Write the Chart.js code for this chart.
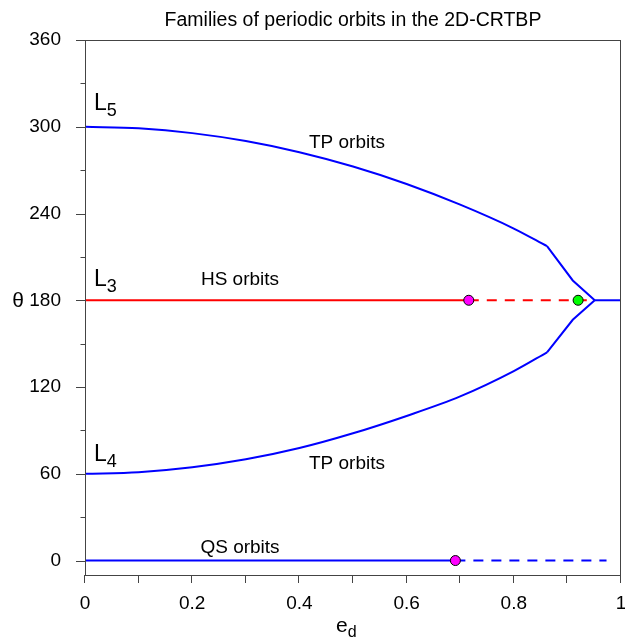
<!DOCTYPE html>
<html>
<head>
<meta charset="utf-8">
<script src="https://cdn.jsdelivr.net/npm/chart.js@4"></script>
<style>
  html, body { margin: 0; padding: 0; background: #fff; }
  #wrap { width: 625px; height: 637px; }
</style>
</head>
<body>
<div id="wrap"><canvas id="c" width="625" height="637"></canvas></div>
<script>
// tadpole (TP) branches: smooth part up to the corner at e ~ 0.862
const tpEcc = [0, 0.1, 0.2, 0.3, 0.4, 0.5, 0.6, 0.7, 0.8, 0.862];
const tpUpper = [300, 298.9, 295.6, 290.1, 282.4, 272.5, 260.4, 246.1, 229.6, 217.4];
const tpLower = [60, 61.1, 64.5, 70, 77.8, 88, 100, 113.5, 131, 144];
// TP tails running into the HS branch point, then the joined branch
const tailEcc = [0.862, 0.91, 0.951];
const tailUpper = [217.4, 193.7, 180];
const tailLower = [144, 166.5, 180];
const joinedEcc = [0.951, 1];
// horseshoe (HS) family at 180 deg, stable up to the first marker
const hsStable = [0, 0.716];
const hsUnstable = [0.716, 0.951];
// quasi-satellite (QS) family at 0 deg
const qsStable = [0, 0.691];
const qsUnstable = [0.691, 0.973];
// bifurcation points
const magentaPts = [[0.716, 180], [0.691, 0]];
const greenPts = [[0.92, 180]];

const xTicks = [0, 0.1, 0.2, 0.3, 0.4, 0.5, 0.6, 0.7, 0.8, 0.9, 1];
const xLabels = ['0', '', '0.2', '', '0.4', '', '0.6', '', '0.8', '', '1'];
const yTicks = [0, 30, 60, 90, 120, 150, 180, 210, 240, 270, 300, 330, 360];

const BLUE = '#0000ff', RED = '#ff0000', AXIS = '#444';
const FONT = '"Liberation Sans", Arial, sans-serif';

const pts = (xs, ys) => xs.map((x, i) => ({x, y: ys[i]}));
const flat = (xs, y) => xs.map(x => ({x, y}));

// lower order is drawn on top
const line = (data, color, dash, smooth) => ({
  type: 'line', data, borderColor: color, borderWidth: 2,
  borderDash: dash || [], pointRadius: 0, fill: false,
  cubicInterpolationMode: smooth ? 'monotone' : 'default', tension: 0,
  order: color === RED ? 1 : 2
});

const marker = (list, color) => ({
  type: 'scatter', data: list.map(([x, y]) => ({x, y})), pointRadius: 5,
  pointBackgroundColor: color, pointBorderColor: '#000', pointBorderWidth: 1, order: 0
});

const datasets = [
  line(pts(tpEcc, tpUpper), BLUE, null, true),
  line(pts(tpEcc, tpLower), BLUE, null, true),
  line(pts(tailEcc, tailUpper), BLUE),
  line(pts(tailEcc, tailLower), BLUE),
  line(flat(joinedEcc, 180), BLUE),
  line(flat(qsStable, 0), BLUE),
  line(flat(qsUnstable, 0), BLUE, [10, 8]),
  line(flat(hsStable, 180), RED),
  line(flat(hsUnstable, 180), RED, [10, 8]),
  marker(magentaPts, '#ff00ff'),
  marker(greenPts, '#00ff00')
];

// frame, tick marks, x tick labels and text labels
const decor = {
  id: 'decor',
  afterDraw(chart) {
    const {ctx, chartArea: a, scales: {x, y}} = chart;
    ctx.save();
    ctx.strokeStyle = AXIS;
    ctx.lineWidth = 1;
    ctx.strokeRect(a.left + 0.5, a.top + 0.5, a.right - a.left - 1, a.bottom - a.top);
    ctx.beginPath();
    yTicks.forEach(v => {
      const py = Math.round(y.getPixelForValue(v)) + 0.5;
      const len = v % 60 === 0 ? 9 : 4.5;
      ctx.moveTo(a.left, py); ctx.lineTo(a.left - len, py);
    });
    xTicks.forEach(v => {
      const px = Math.round(x.getPixelForValue(v)) - 0.5;
      ctx.moveTo(px, a.bottom); ctx.lineTo(px, a.bottom + 8);
    });
    ctx.stroke();

    ctx.fillStyle = '#000';
    ctx.textBaseline = 'alphabetic';
    ctx.textAlign = 'center';
    ctx.font = '19px ' + FONT;
    xTicks.forEach((v, i) => ctx.fillText(xLabels[i], x.getPixelForValue(v), a.bottom + 34));

    ctx.font = '19.5px ' + FONT;
    ctx.fillText('Families of periodic orbits in the 2D-CRTBP', (a.left + a.right) / 2, 26);

    const sub = (main, s, px, py, big, small) => {
      ctx.textAlign = 'left';
      ctx.font = big + 'px ' + FONT;
      ctx.fillText(main, px, py);
      const w = ctx.measureText(main).width;
      ctx.font = small + 'px ' + FONT;
      ctx.fillText(s, px + w, py + big * 0.25);
    };
    sub('L', '5', 94, 110, 23, 18);
    sub('L', '3', 94, 286, 23, 18);
    sub('L', '4', 94, 461, 23, 18);

    ctx.textAlign = 'center';
    ctx.font = '19px ' + FONT;
    ctx.fillText('TP orbits', 347, 148);
    ctx.fillText('TP orbits', 347, 469);
    ctx.fillText('HS orbits', 240, 285);
    ctx.fillText('QS orbits', 240, 553);

    ctx.font = '21px ' + FONT;
    ctx.fillText('\u03b8', 18, 307);
    sub('e', 'd', 336, 632, 21, 16);
    ctx.restore();
  }
};

new Chart(document.getElementById('c'), {
  data: {datasets},
  options: {
    responsive: false,
    animation: false,
    layout: {autoPadding: false, padding: {top: 40, right: 4, left: 0, bottom: 0}},
    plugins: {legend: {display: false}, tooltip: {enabled: false}},
    scales: {
      x: {
        type: 'linear', min: 0, max: 1,
        afterBuildTicks: s => { s.ticks = xTicks.map(value => ({value})); },
        afterFit: s => { s.height = 62; },
        grid: {display: false}, border: {display: false},
        ticks: {display: false}
      },
      y: {
        type: 'linear', min: -10, max: 360,
        afterBuildTicks: s => { s.ticks = yTicks.map(value => ({value})); },
        afterFit: s => { s.width = 85; },
        grid: {display: false}, border: {display: false},
        ticks: {
          padding: 16, color: '#000', font: {family: FONT, size: 19}, autoSkip: false,
          callback: v => (v % 60 === 0 ? String(v) : '')
        }
      }
    }
  },
  plugins: [decor]
});
</script>
</body>
</html>
